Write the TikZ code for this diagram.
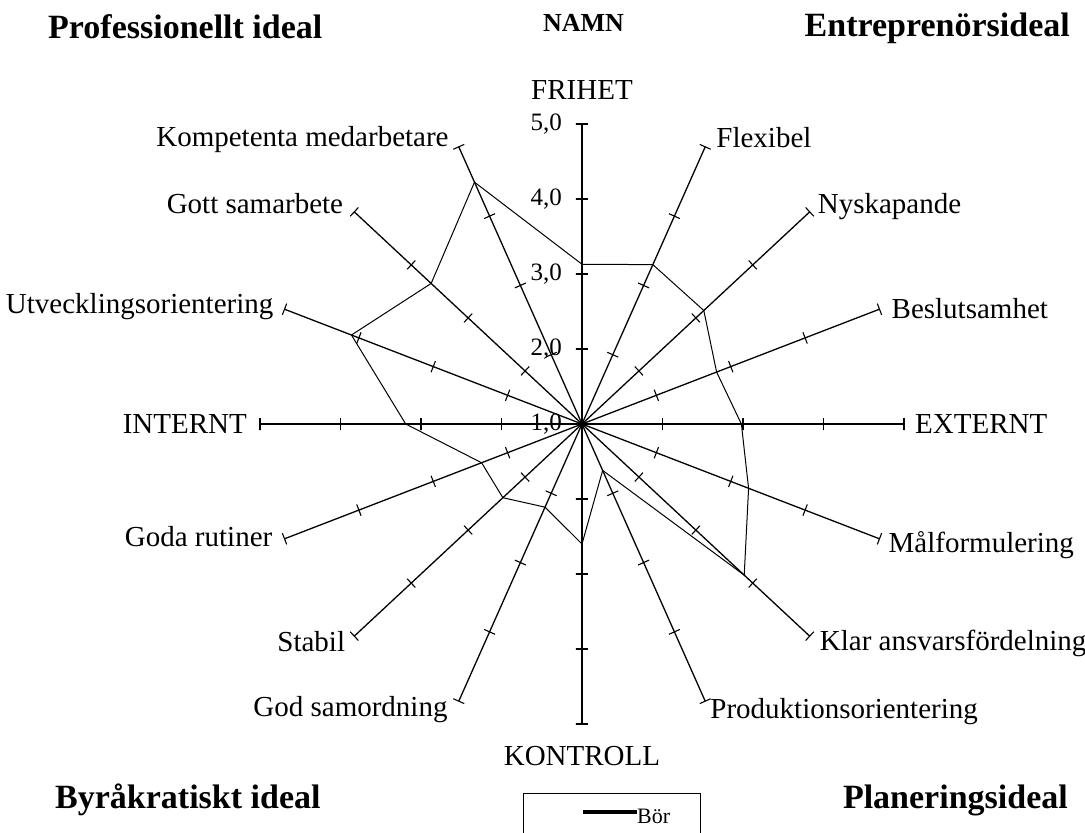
\documentclass[tikz,border=0pt]{standalone}
\usepackage{fontspec}
\setmainfont{Liberation Serif}
\usepackage{tikz}
\usetikzlibrary{positioning}

\tikzset{
  spoke/.style={line width=1.3pt},
  spoketick/.style={sloped, draw, line width=1.1pt, inner sep=0pt, minimum width=0pt, minimum height=12pt},
  boerline/.style={line width=1pt, line join=round},
  axlabel/.style={font=\fontsize{29}{31}\selectfont, inner sep=0pt},
  scalelabel/.style={font=\fontsize{25}{27}\selectfont, inner sep=0pt, anchor=east, xshift=-20pt},
  ideal/.style={font=\fontsize{34}{37}\selectfont\bfseries, inner sep=0pt}
}

\begin{document}
\begin{tikzpicture}[x=80.5pt, y=75pt]
      \useasboundingbox (-582pt,-409pt) rectangle (503pt,424pt);
            % spokes, one unit between the ticks
            \foreach \a/\nm in {0/externt,22.5/beslut,45/nyskap,67.5/flex,90/frihet,112.5/kompet,135/samarb,157.5/utveckl,180/internt,202.5/rutiner,225/stabil,247.5/samord,270/kontroll,292.5/prod,315/ansvar,337.5/malform}
            \draw[spoke] (0,0) -- (\a:4) coordinate (ax-\nm)
            node[spoketick,pos=0.25] {} node[spoketick,pos=0.5] {}
            node[spoketick,pos=0.75] {} node[spoketick,pos=1] {};
            \foreach \v in {1,...,5}
            \node[scalelabel] (val\v) at (0,\v-1) {\v,0};
            % Bor
            \foreach \r [count=\i] in {2.13,2.30,2.14,1.81,1.98,2.24,2.85,0.67,1.60,1.20,1.39,1.35,2.19,3.10,2.65,3.49}
            \coordinate (d\i) at ({90-(\i-1)*22.5}:\r);
            \draw[boerline] (d1) \foreach \i in {2,...,16} {-- (d\i)} -- cycle;
            \node[axlabel, anchor=base] (lbl-frihet) at ([yshift=24pt]ax-frihet) {FRIHET};%
            \node[axlabel, anchor=base west] (lbl-flex) at ([xshift=11pt,yshift=-1pt]ax-flex) {Flexibel};%
            \node[axlabel, anchor=base west] (lbl-nyskap) at ([xshift=8pt,yshift=-2pt]ax-nyskap) {Nyskapande};%
            \node[axlabel, anchor=base west] (lbl-beslut) at ([xshift=12pt,yshift=-9pt]ax-beslut) {Beslutsamhet};%
            \node[axlabel, anchor=base west] (lbl-externt) at ([xshift=11pt,yshift=-9pt]ax-externt) {EXTERNT};%
            \node[axlabel, anchor=base west] (lbl-malform) at ([xshift=9pt,yshift=-14pt]ax-malform) {Målformulering};%
            \node[axlabel, anchor=base west] (lbl-ansvar) at ([xshift=10pt,yshift=-14pt]ax-ansvar) {Klar ansvarsfördelning};%
            \node[axlabel, anchor=base west] (lbl-prod) at ([xshift=5pt,yshift=-17pt]ax-prod) {Produktionsorientering};%
            \node[axlabel, anchor=base] (lbl-kontroll) at ([yshift=-41pt]ax-kontroll) {KONTROLL};%
            \node[axlabel, anchor=base east] (lbl-samord) at ([xshift=-11pt,yshift=-15pt]ax-samord) {God samordning};%
            \node[axlabel, anchor=base east] (lbl-stabil) at ([xshift=-9pt,yshift=-15pt]ax-stabil) {Stabil};%
            \node[axlabel, anchor=base east] (lbl-rutiner) at ([xshift=-12pt,yshift=-8pt]ax-rutiner) {Goda rutiner};%
            \node[axlabel, anchor=base east] (lbl-internt) at ([xshift=-13pt,yshift=-9pt]ax-internt) {INTERNT};%
            \node[axlabel, anchor=base east] (lbl-utveckl) at ([xshift=-11pt,yshift=-4pt]ax-utveckl) {Utvecklingsorientering};%
            \node[axlabel, anchor=base east] (lbl-samarb) at ([xshift=-11pt,yshift=-2pt]ax-samarb) {Gott samarbete};%
            \node[axlabel, anchor=base east] (lbl-kompet) at ([xshift=-10pt]ax-kompet) {Kompetenta medarbetare};%
            % the four ideals
            \node[ideal, anchor=base west] (prof) at (-534pt,385pt) {Professionellt ideal};%
            \node[ideal, anchor=base east] (entr) at (488pt,387pt) {Entreprenörsideal};%
            \node[ideal, anchor=base west] (byra) at (-527pt,-384pt) {Byråkratiskt ideal};%
            \node[ideal, anchor=base east] (plan) at (486pt,-384pt) {Planeringsideal};%
            \node[font=\fontsize{26}{28}\selectfont\bfseries, inner sep=0pt, anchor=base] (namn) at (1.5pt,392pt) {NAMN};%
            % legend
            \draw[line width=0.8pt] (-59pt,-409pt) |- (118pt,-369pt) -- (118pt,-409pt);
            \node[font=\fontsize{22}{24}\selectfont, inner sep=0pt, anchor=base west] (boer) at (55pt,-399pt) {Bör};
            \coordinate (boerstart) at (1pt,-388pt);
            \draw[line width=3.5pt] (boerstart) -- (boerstart -| boer.west);
      \end{tikzpicture}
\end{document}
